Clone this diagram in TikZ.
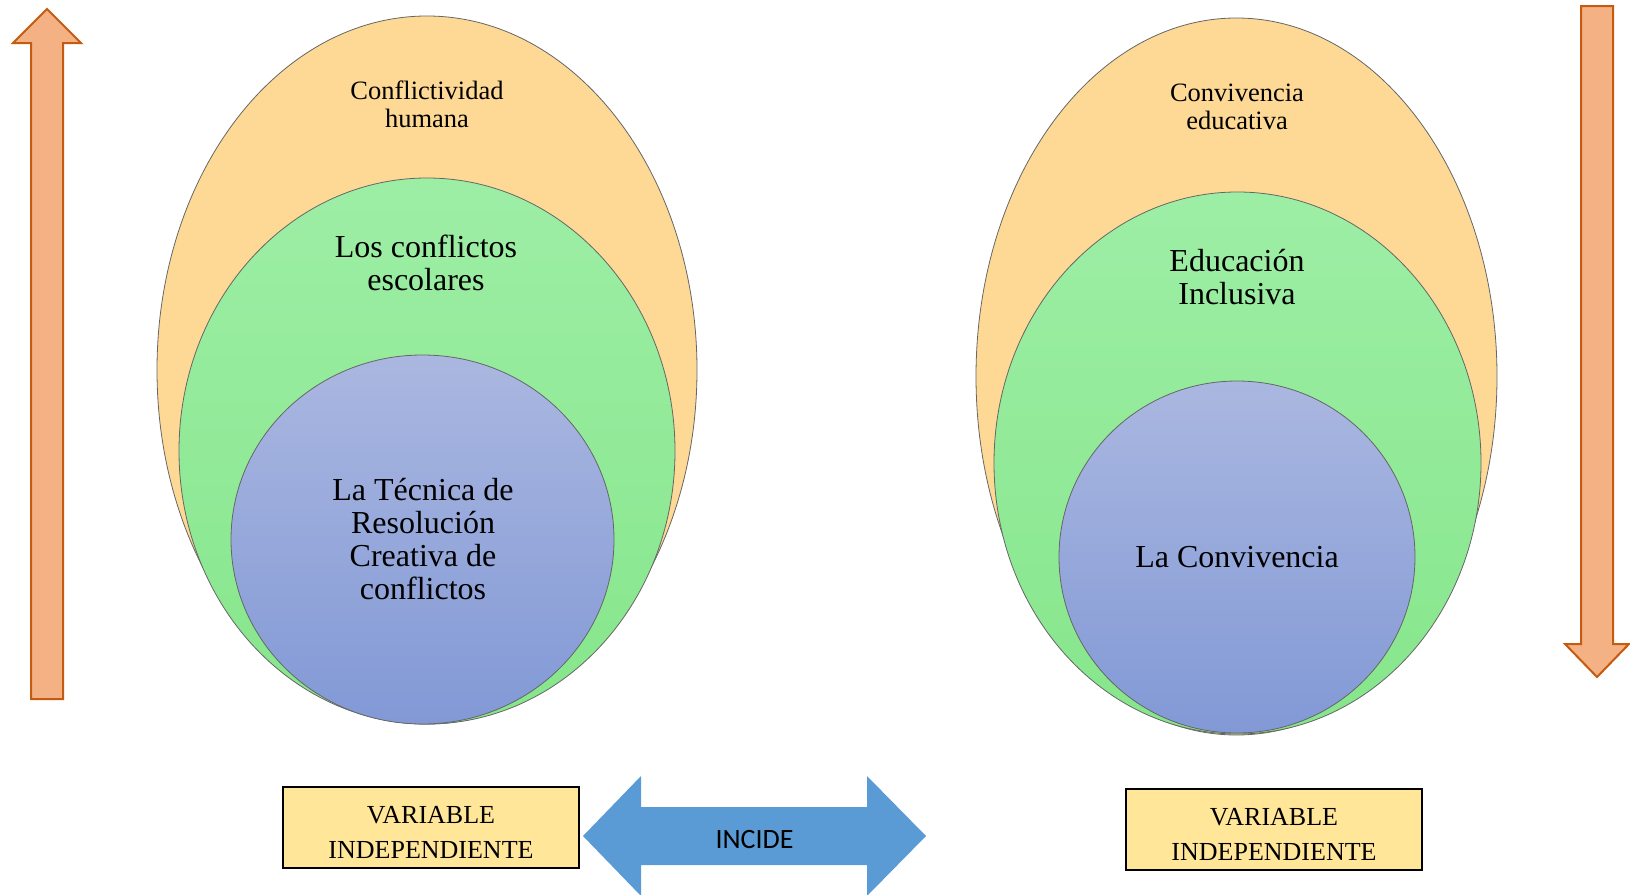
\documentclass[tikz,border=0pt]{standalone}
\usepackage{fontspec}
\setmainfont{Liberation Serif}
\newfontfamily\incidefont{Carlito}
\usetikzlibrary{shapes.geometric}
\definecolor{durazno}{HTML}{FDD995}
\definecolor{verdeA}{HTML}{9DEEA5}
\definecolor{verdeB}{HTML}{86E68B}
\definecolor{azulA}{HTML}{AAB7E0}
\definecolor{azulB}{HTML}{8299D6}
\definecolor{naranja}{HTML}{F4B183}
\definecolor{naranjaB}{HTML}{C55A11}
\definecolor{amarillo}{HTML}{FFE699}
\definecolor{celeste}{HTML}{5B9BD5}
\tikzset{
  conjunto/.style={ellipse, draw=black!60, line width=0.8pt, inner sep=0pt},
  externo/.style={conjunto, fill=durazno},
  medio/.style={conjunto, top color=verdeA, bottom color=verdeB},
  interno/.style={conjunto, top color=azulA, bottom color=azulB},
  caja/.style={draw=black, line width=1.2pt, fill=amarillo, inner sep=0pt,
    minimum width=296pt, minimum height=81pt},
  textoA/.style={align=center, font=\fontsize{26.5}{28}\selectfont},
  textoB/.style={align=center, font=\fontsize{32}{33}\selectfont},
  textoC/.style={align=center, font=\fontsize{26}{35}\selectfont},
  flecha/.style={fill=naranja, draw=naranjaB, line width=2pt, line join=miter}
}
\begin{document}
\begin{tikzpicture}[x=1pt,y=-1pt]
  \useasboundingbox (0,0) rectangle (1630,894);
  % Conjuntos de la izquierda
  \node[externo, minimum width=540pt, minimum height=708pt] (extI) at (427,370) {};
  \node[medio, minimum width=496pt, minimum height=546pt] (medI) at (427,451) {};
  \node[interno, minimum width=383pt, minimum height=369pt] (intI) at (422.5,539.5) {};
  \node[textoA] (conflictividad) at (427,104) {Conflictividad\\humana};
  \node[textoB] (conflictos) at (426,263) {Los conflictos\\escolares};
  \node[textoB] (tecnica) at (423,539) {La Técnica de\\Resolución\\Creativa de\\conflictos};
  % Conjuntos de la derecha
  \node[externo, minimum width=521pt, minimum height=717pt] (extD) at (1236.5,376.5) {};
  \node[medio, minimum width=487pt, minimum height=542pt] (medD) at (1237.5,463) {};
  \node[interno, minimum width=356pt, minimum height=352pt] (intD) at (1237,557) {};
  \node[textoA] (convEdu) at (1237,107) {Convivencia\\educativa};
  \node[textoB] (inclusiva) at (1237,277) {Educación\\Inclusiva};
  \node[textoB] (convivencia) at (1237,557) {La Convivencia};
  % Flechas laterales
  \draw[flecha] (31,699) -- (31,43) -- (13,43) -- (47,9) -- (81,43) -- (63,43) -- (63,699) -- cycle;
  \draw[flecha] (1581,6) -- (1613,6) -- (1613,644) -- (1629,644) -- (1597,677)
    -- (1565,644) -- (1581,644) -- cycle;
  % Variables
  \node[caja] (varI) at (431,827.5) {};
  \node[caja] (varD) at (1274,829.5) {};
  \node[textoC] (txtI) at ([yshift=-4.5pt]varI.center) {VARIABLE\\INDEPENDIENTE};
  \node[textoC] (txtD) at ([yshift=-4.5pt]varD.center) {VARIABLE\\INDEPENDIENTE};
  % Flecha doble
  \fill[celeste] (583,836) -- (641,776) -- (641,807) -- (867,807) -- (867,776)
    -- (926,836) -- (867,896) -- (867,865) -- (641,865) -- (641,896) -- cycle;
  \node[font=\incidefont\fontsize{28}{30}\selectfont] (incide) at (754.5,839) {INCIDE};
\end{tikzpicture}
\end{document}
